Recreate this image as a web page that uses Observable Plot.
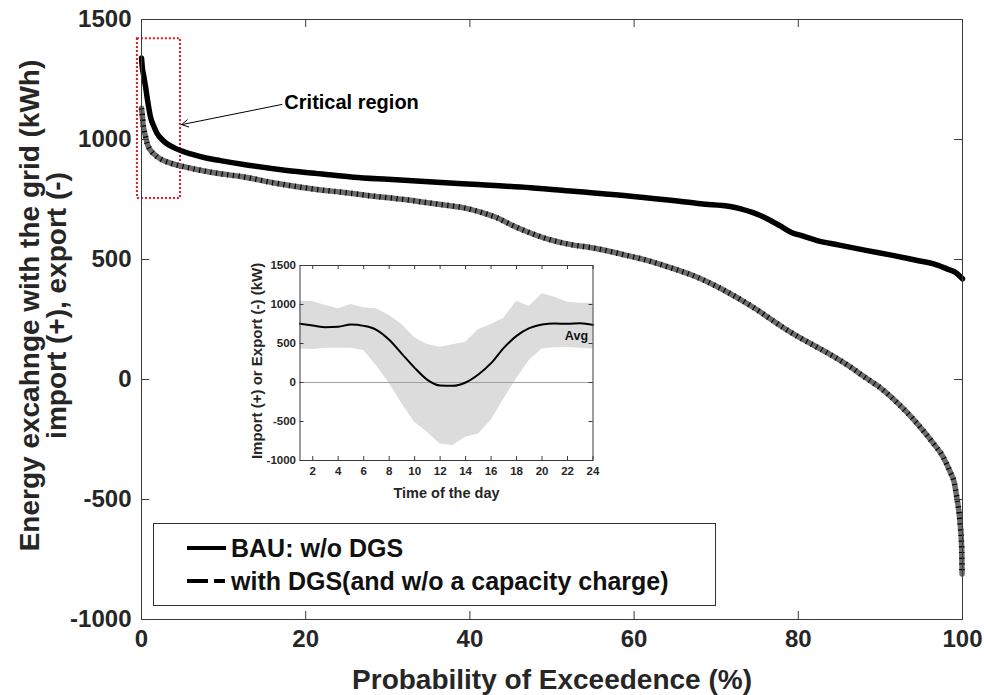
<!DOCTYPE html>
<html>
<head>
<meta charset="utf-8">
<script src="https://cdn.jsdelivr.net/npm/d3@7"></script>
<script src="https://cdn.jsdelivr.net/npm/@observablehq/plot@0.6"></script>
<style>
  html, body { margin: 0; padding: 0; background: white; }
  #wrap { position: relative; width: 984px; height: 695px; font-family: "Liberation Sans", Arial, sans-serif; color: #262626; }
  #wrap svg { position: absolute; }
  #legend { position: absolute; left: 153px; top: 523px; width: 561px; height: 81px; border: 1px solid #333; background: white; font-weight: bold; font-size: 25px; color: #111; }
  #legend .row { position: absolute; left: 33px; height: 30px; display: flex; align-items: center; white-space: nowrap; }
  #legend .row svg { position: static; margin-right: 4px; }
</style>
</head>
<body>
<div id="wrap">
  <div id="main"></div>
  <div id="inset"></div>
  <div id="legend"></div>
</div>
<script>
// Duration curves: probability of exceedence (%) vs. energy exchanged with the grid (kWh)
const bauX = [0, 0.1, 0.3, 0.5, 0.8, 1.1, 1.5, 1.9, 2.5, 3.1, 4, 4.75, 6, 8, 9.6, 13, 17.7, 22, 25.8, 30, 36, 41, 47.4, 53, 59.6, 65, 68.1, 71.7, 73, 74.5, 76.2, 77.8, 79.1, 80.5, 82.3, 85, 88.4, 91.5, 94.5, 96.5, 98.1, 99.2, 100];
const bauY = [1340, 1300, 1260, 1218, 1150, 1093, 1055, 1025, 1000, 982, 965, 954, 940, 922, 912, 893, 871, 856, 843, 834, 822, 812, 799, 783, 764, 745, 732, 721, 711, 695, 670, 640, 614, 598, 579, 560, 537, 517, 496, 482, 461, 445, 420];

const dgsX = [0, 0.1, 0.2, 0.3, 0.5, 0.7, 1, 1.5, 2.5, 3.5, 4.75, 7, 9.6, 12.1, 16, 21.8, 24.2, 28, 32, 36, 39.3, 41.5, 43.3, 45, 46.6, 49.4, 52, 55.5, 58.5, 61.6, 64.5, 67.7, 71, 74.5, 76.2, 78, 80.3, 83.5, 86.4, 88, 90, 92, 94, 95.5, 96.5, 97.6, 98.5, 99, 99.3, 99.6, 99.75, 99.9, 99.95];
const dgsY = [1130, 1100, 1060, 1040, 1010, 982, 960, 940, 915, 902, 890, 873, 857, 846, 820, 790, 781, 765, 750, 731, 715, 695, 674, 645, 621, 586, 564, 545, 522, 496, 465, 426, 371, 301, 262, 220, 172, 112, 51, 12, -35, -95, -165, -225, -268, -320, -385, -430, -490, -560, -615, -700, -810];

const xTicks = [0, 20, 40, 60, 80, 100];
const yTicks = [-1000, -500, 0, 500, 1000, 1500];

// Highlighted "critical region" box and its annotation arrow
const regionX = [-0.5, 4.75];
const regionY = [754, 1420];
const noteText = "Critical region";
const noteX = 17.4, noteY = 1154;
const arrowFrom = [17.1, 1146];
const arrowTo = [4.9, 1062];

// Daily profile (inset): hour, average, and min/max envelope (kW)
const hours = [1, 2, 3, 4, 5, 6, 7, 8, 9, 10, 11, 12, 13, 14, 15, 16, 17, 18, 19, 20, 21, 22, 23, 24];
const avgKW = [752, 731, 709, 714, 744, 726, 675, 547, 367, 188, 34, -39, -43, 0, 102, 248, 444, 598, 696, 744, 756, 752, 761, 739];
const maxKW = [1038, 1038, 987, 944, 1000, 957, 944, 859, 744, 573, 487, 453, 483, 517, 675, 744, 825, 1043, 974, 1137, 1094, 1030, 1017, 1017];
const minKW = [431, 423, 440, 440, 440, 410, 218, -9, -274, -509, -637, -787, -808, -701, -659, -487, -210, 47, 282, 431, 444, 453, 440, 431];
const insetXTicks = [2, 4, 6, 8, 10, 12, 14, 16, 18, 20, 22, 24];
const insetYTicks = [-1000, -500, 0, 500, 1000, 1500];

const seriesNames = ["BAU: w/o DGS", "with DGS(and w/o a capacity charge)"];

const bau = bauX.map((x, i) => ({x, y: bauY[i]}));
const dgs = dgsX.map((x, i) => ({x, y: dgsY[i]}));
const daily = hours.map((h, i) => ({h, avg: avgKW[i], max: maxKW[i], min: minKW[i]}));

const font = "Liberation Sans, Arial, sans-serif";
const W = 984, H = 695, mL = 141, mR = 22, mT = 19, mB = 76;
const plotW = W - mL - mR, plotH = H - mT - mB;
const tk = 8;

const main = Plot.plot({
  width: W, height: H,
  marginLeft: mL, marginRight: mR, marginTop: mT, marginBottom: mB,
  x: {domain: [0, 100]},
  y: {domain: [-1000, 1500]},
  style: {fontFamily: font, fontWeight: "bold", color: "#262626", background: "white"},
  marks: [
    Plot.rect([0], {x1: () => regionX[0], x2: () => regionX[1], y1: () => regionY[0], y2: () => regionY[1], fill: "none", stroke: "#e8141b", strokeWidth: 2, strokeDasharray: "2,2"}),
    // densely dashed series: grey body with fine black dash marks
    Plot.line(dgs, {x: "x", y: "y", stroke: "#6c6c6c", strokeWidth: 5.5, curve: "monotone-x"}),
    Plot.line(dgs, {x: "x", y: "y", stroke: "#000", strokeWidth: 5.5, strokeLinecap: "butt", strokeDasharray: "1.2,4.5", curve: "monotone-x"}),
    Plot.line(bau, {x: "x", y: "y", stroke: "#000", strokeWidth: 5.5, curve: "monotone-x"}),
    Plot.frame({stroke: "#3a3a3a", strokeWidth: 1}),
    Plot.tickX(xTicks, {x: d => d, stroke: "#3a3a3a", insetTop: plotH - tk}),
    Plot.tickX(xTicks, {x: d => d, stroke: "#3a3a3a", insetBottom: plotH - tk}),
    Plot.tickY(yTicks, {y: d => d, stroke: "#3a3a3a", insetRight: plotW - tk}),
    Plot.tickY(yTicks, {y: d => d, stroke: "#3a3a3a", insetLeft: plotW - tk}),
    Plot.axisX(xTicks, {tickSize: 0, tickPadding: 10, fontSize: 24, fontWeight: "bold", label: null, tickFormat: d => String(d)}),
    Plot.axisY(yTicks, {tickSize: 0, tickPadding: 10, fontSize: 24, fontWeight: "bold", label: null, tickFormat: d => String(d)}),
    Plot.text(["Probability of Exceedence (%)"], {frameAnchor: "bottom", dy: 69, fontSize: 28, fontWeight: "bold", fill: "#262626"}),
    Plot.text(["Energy excahnge with the grid (kWh)\nimport (+), export (-)"], {frameAnchor: "left", textAnchor: "middle", rotate: -90, dx: -98, dy: -14, fontSize: 28, lineHeight: 0.98, fontWeight: "bold", fill: "#262626"}),
    Plot.text([noteText], {x: () => noteX, y: () => noteY, textAnchor: "start", fontSize: 20, fontWeight: "bold", fill: "#000"}),
    Plot.arrow([0], {x1: () => arrowFrom[0], y1: () => arrowFrom[1], x2: () => arrowTo[0], y2: () => arrowTo[1], stroke: "#000", strokeWidth: 1, headLength: 11})
  ]
});
main.style.left = "0px";
main.style.top = "0px";
document.getElementById("main").append(main);

// Inset: average daily import/export with its range
const iL = 230, iT = 250, iW = 380, iH = 262;
const inset = Plot.plot({
  width: iW, height: iH,
  marginLeft: 69.5, marginRight: 17.5, marginTop: 15, marginBottom: 52,
  x: {domain: [1, 24]},
  y: {domain: [-1000, 1500]},
  style: {fontFamily: font, fontWeight: "bold", color: "#262626", background: "transparent"},
  marks: [
    Plot.frame({fill: "white"}),
    Plot.areaY(daily, {x: "h", y1: "min", y2: "max", fill: "#dcdcdc"}),
    Plot.ruleY([0], {stroke: "#a0a0a0", strokeWidth: 1}),
    Plot.line(daily, {x: "h", y: "avg", stroke: "#000", strokeWidth: 2, curve: "monotone-x"}),
    Plot.text(["Avg"], {x: () => 22.7, y: () => 602, fontSize: 12.5, fontWeight: "bold", fill: "#111"}),
    Plot.frame({stroke: "#3a3a3a", strokeWidth: 1}),
    Plot.tickX(insetXTicks, {x: d => d, stroke: "#3a3a3a", insetTop: 195 - 4}),
    Plot.tickX(insetXTicks, {x: d => d, stroke: "#3a3a3a", insetBottom: 195 - 4}),
    Plot.tickY(insetYTicks, {y: d => d, stroke: "#3a3a3a", insetRight: 293 - 4}),
    Plot.tickY(insetYTicks, {y: d => d, stroke: "#3a3a3a", insetLeft: 293 - 4}),
    Plot.axisX(insetXTicks, {tickSize: 0, tickPadding: 6, fontSize: 11.5, fontWeight: "bold", label: null, tickFormat: d => String(d)}),
    Plot.axisY(insetYTicks, {tickSize: 0, tickPadding: 4, fontSize: 11.5, fontWeight: "bold", label: null, tickFormat: d => String(d)}),
    Plot.text(["Time of the day"], {frameAnchor: "bottom", dy: 37, fontSize: 14.5, fontWeight: "bold", fill: "#262626"}),
    Plot.text(["Import (+) or Export (-) (kW)"], {frameAnchor: "left", textAnchor: "middle", rotate: -90, dx: -43, dy: -2, fontSize: 15, fontWeight: "bold", fill: "#262626"})
  ]
});
inset.style.left = iL + "px";
inset.style.top = iT + "px";
document.getElementById("inset").append(inset);

// Legend
const legend = document.getElementById("legend");
const samples = [
  '<svg width="40" height="8"><line x1="0" y1="4" x2="39" y2="4" stroke="#000" stroke-width="4"/></svg>',
  '<svg width="40" height="8"><line x1="0" y1="4" x2="39" y2="4" stroke="#000" stroke-width="4" stroke-dasharray="21,6,11"/></svg>'
];
seriesNames.forEach((name, i) => {
  const row = document.createElement("div");
  row.className = "row";
  row.style.top = (i === 0 ? 9 : 42) + "px";
  row.innerHTML = samples[i] + "<span>" + name + "</span>";
  legend.append(row);
});
</script>
</body>
</html>
